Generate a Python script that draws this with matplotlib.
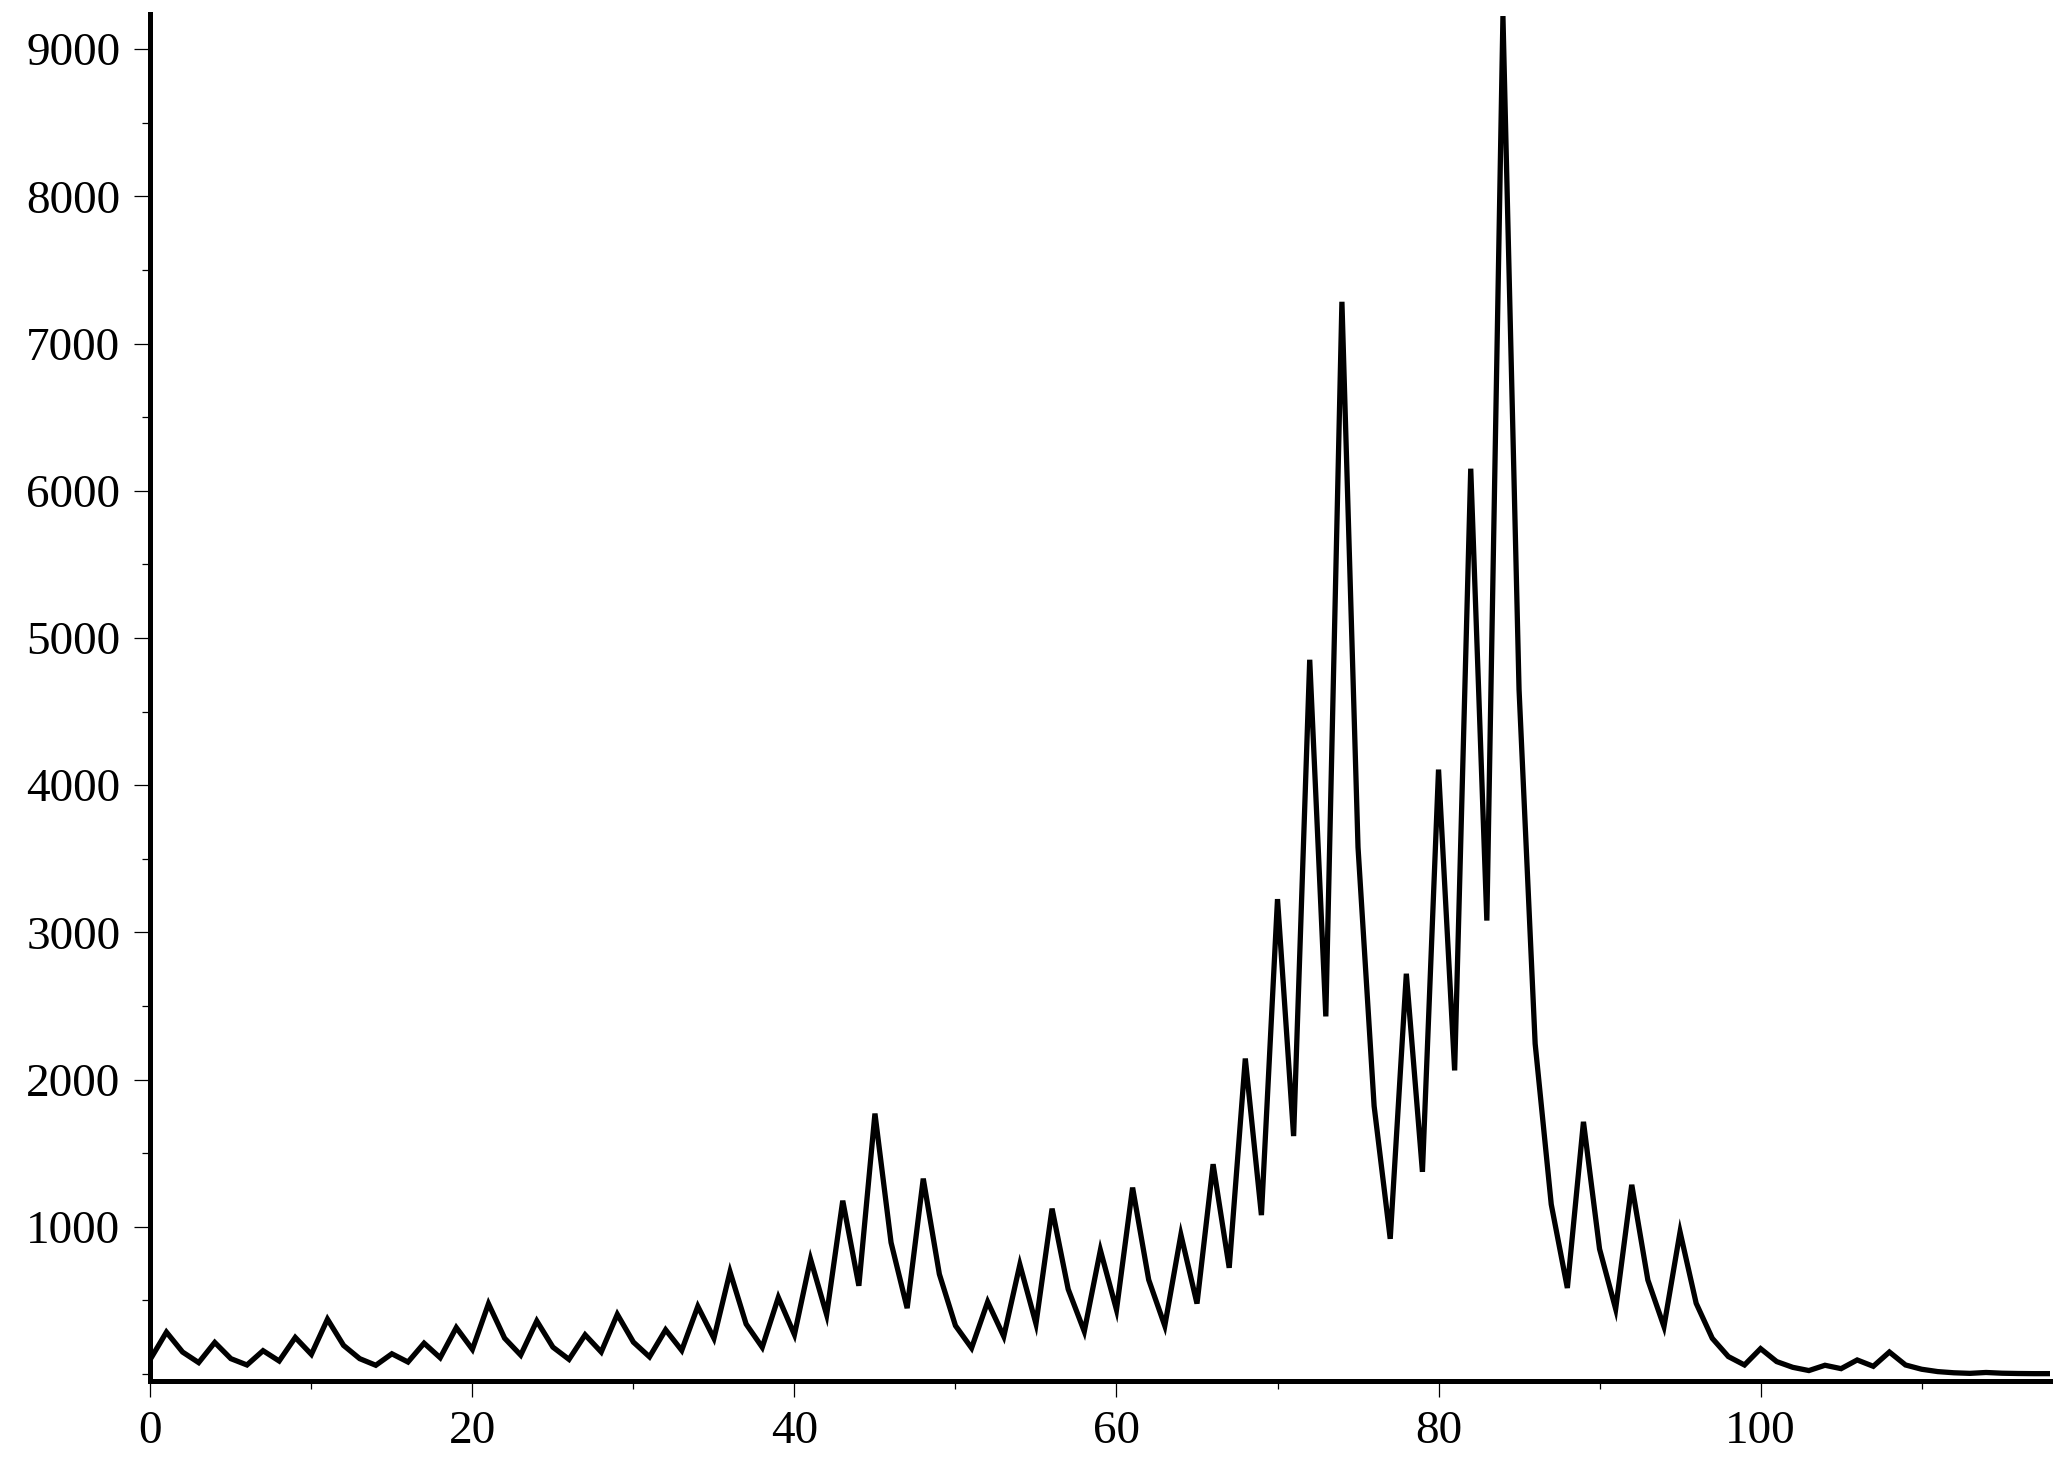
import matplotlib
matplotlib.use('Agg')
import matplotlib.pyplot as plt
from matplotlib.ticker import MultipleLocator, FixedLocator

# values, one per integer step
x_values = list(range(0, 119))
y_values = [100, 284, 149, 77, 214, 104, 61, 158, 88, 248,
            133, 372, 194, 104, 59, 137, 81, 209, 110, 315,
            167, 477, 243, 128, 360, 182, 99, 266, 149, 405,
            216, 116, 300, 160, 459, 242, 694, 339, 181, 520,
            267, 780, 402, 1177, 599, 1769, 893, 447, 1327, 678,
            328, 176, 490, 255, 743, 341, 1123, 576, 289, 841,
            436, 1266, 640, 327, 946, 478, 1425, 721, 2143, 1079,
            3226, 1616, 4852, 2429, 7284, 3578, 1820, 918, 2719, 1373,
            4106, 2062, 6150, 3080, 9225, 4650, 2244, 1152, 584, 1713,
            849, 442, 1285, 638, 322, 965, 480, 242, 118, 61,
            172, 84, 45, 23, 59, 36, 95, 52, 149, 61,
            32, 16, 8, 4, 10, 5, 3, 2, 2]

x_major = [0, 20, 40, 60, 80, 100]
y_major = [1000, 2000, 3000, 4000, 5000, 6000, 7000, 8000, 9000]

plt.rcParams['font.family'] = ['Liberation Serif', 'DejaVu Serif']

fig = plt.figure(figsize=(20.68, 14.60), dpi=100)
ax = fig.add_axes([0.0727, 0.0541, 0.9188, 0.9363])

ax.plot(x_values, y_values, color='k', lw=3.8, solid_joinstyle='miter')

ax.set_xlim(0, 118)
ax.set_ylim(-48, 9239)

for side in ['top', 'right']:
    ax.spines[side].set_visible(False)
for side in ['left', 'bottom']:
    ax.spines[side].set_linewidth(3.6)

ax.xaxis.set_major_locator(FixedLocator(x_major))
ax.xaxis.set_minor_locator(MultipleLocator(10))
ax.yaxis.set_major_locator(FixedLocator(y_major))
ax.yaxis.set_minor_locator(MultipleLocator(500))

ax.tick_params(which='major', length=11.5, width=0.9, direction='out',
               labelsize=34, pad=10)
ax.tick_params(which='minor', length=5.5, width=0.9, direction='out')

fig.savefig('out.png', dpi=100, facecolor='white')
